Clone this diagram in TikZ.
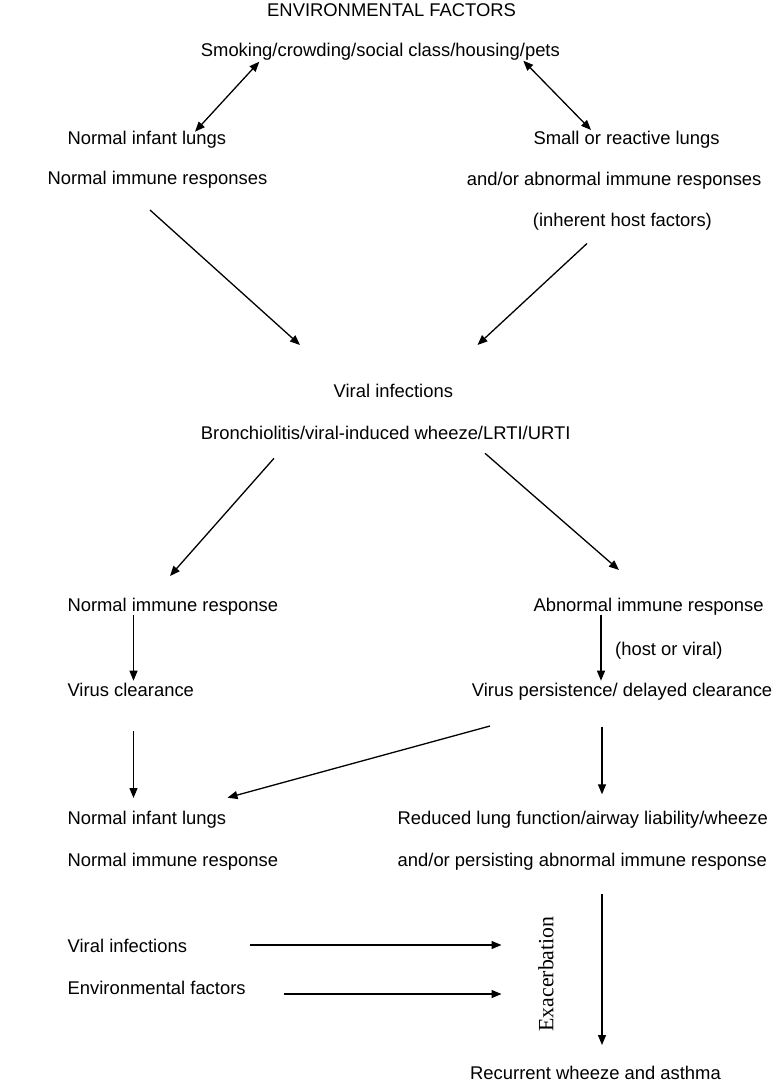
\documentclass[tikz,border=0pt]{standalone}
\usepackage{fontspec}
\setmainfont{Liberation Sans}
\newfontfamily\serifx{Liberation Serif}
\usetikzlibrary{arrows.meta}
\begin{document}
\begin{tikzpicture}[x=1pt,y=-1pt,
  lbl/.style={anchor=base west, inner sep=0pt, font=\fontsize{18.4}{22}\selectfont},
  arr/.style={line width=1.3pt, -{Triangle[length=10pt,width=8pt]}},
  dbl/.style={line width=1.3pt, {Triangle[length=10pt,width=8pt]}-{Triangle[length=10pt,width=8pt]}}]
\fill[white] (0,0) rectangle (780,1084);
\useasboundingbox (0,0) rectangle (780,1084);
% texts
\node[lbl] (env)   at (267,16.7)   {ENVIRONMENTAL FACTORS};
\node[lbl] (smoke) at (200.7,56)   {Smoking/crowding/social class/housing/pets};
\node[lbl] (nil1)  at (67.3,144.3) {Normal infant lungs};
\node[lbl] (nir1)  at (47.3,184.3) {Normal immune responses};
\node[lbl] (small) at (533.3,144)  {Small or reactive lungs};
\node[lbl] (andor) at (466.7,185.7){and/or abnormal immune responses};
\node[lbl] (inh)   at (532.7,226)  {(inherent host factors)};
\node[lbl] (vi)    at (333.5,397.5){Viral infections};
\node[lbl] (bron)  at (200.7,439.3){Bronchiolitis/viral-induced wheeze/LRTI/URTI};
\node[lbl] (nir2)  at (67.3,611.7) {Normal immune response};
\node[lbl] (air)   at (533.3,611.7){Abnormal immune response};
\node[lbl] (hov)   at (615,655)    {(host or viral)};
\node[lbl] (vc)    at (67.3,696.7) {Virus clearance};
\node[lbl] (vp)    at (471.7,696.7){Virus persistence/ delayed clearance};
\node[lbl] (nil2)  at (67.3,824.3) {Normal infant lungs};
\node[lbl] (nir3)  at (67.3,866.7) {Normal immune response};
\node[lbl] (red)   at (397.5,824.3){Reduced lung function/airway liability/wheeze};
\node[lbl] (pers)  at (397.5,866.7){and/or persisting abnormal immune response};
\node[lbl] (vi2)   at (67.5,952.7) {Viral infections};
\node[lbl] (envf)  at (67.5,994.5) {Environmental factors};
\node[lbl] (rec)   at (470,1079.3) {Recurrent wheeze and asthma};
\node[rotate=90, inner sep=0pt, font=\serifx\fontsize{21.8}{24}\selectfont] (exa) at (546,974) {Exacerbation};
% connector ends
\coordinate (smokeL) at (259.3,61.7);
\coordinate (nil1T)  at (195,131.7);
\coordinate (smokeR) at (523.3,60.7);
\coordinate (smallT) at (591,130);
\coordinate (nir1B)  at (150,210);
\coordinate (inhB)   at (587,243.5);
\coordinate (viTL)   at (300,345);
\coordinate (viTR)   at (477.5,345);
\coordinate (bronL)  at (274,458.3);
\coordinate (bronR)  at (485,453.3);
\coordinate (nir2T)  at (170,576);
\coordinate (airT)   at (619,570);
\coordinate (nir2B)  at (133.5,615);
\coordinate (vcT)    at (133.5,680.7);
\coordinate (airB)   at (601,615);
\coordinate (vpT)    at (601,680.7);
\coordinate (vcB)    at (133.5,731);
\coordinate (nil2T)  at (133.5,798);
\coordinate (vpBL)   at (490,726);
\coordinate (nil2TR) at (227.5,797.7);
\coordinate (vpB)    at (602,726.7);
\coordinate (redT)   at (602,794.3);
\coordinate (persB)  at (602,894);
\coordinate (recT)   at (602,1045);
\coordinate (vi2R)   at (250,945);
\coordinate (vi2E)   at (501.5,945);
\coordinate (envfR)  at (283.5,994);
\coordinate (envfE)  at (501.5,994);
% connectors
\draw[dbl] (smokeL) -- (nil1T);
\draw[dbl] (smokeR) -- (smallT);
\draw[arr] (nir1B) -- (viTL);
\draw[arr] (inhB) -- (viTR);
\draw[arr] (bronL) -- (nir2T);
\draw[arr] (bronR) -- (airT);
\draw[arr] (nir2B) -- (vcT);
\draw[arr] (airB) -- (vpT);
\draw[arr] (vcB) -- (nil2T);
\draw[arr] (vpBL) -- (nil2TR);
\draw[arr] (vpB) -- (redT);
\draw[arr] (persB) -- (recT);
\draw[arr] (vi2R) -- (vi2E);
\draw[arr] (envfR) -- (envfE);
\end{tikzpicture}
\end{document}
